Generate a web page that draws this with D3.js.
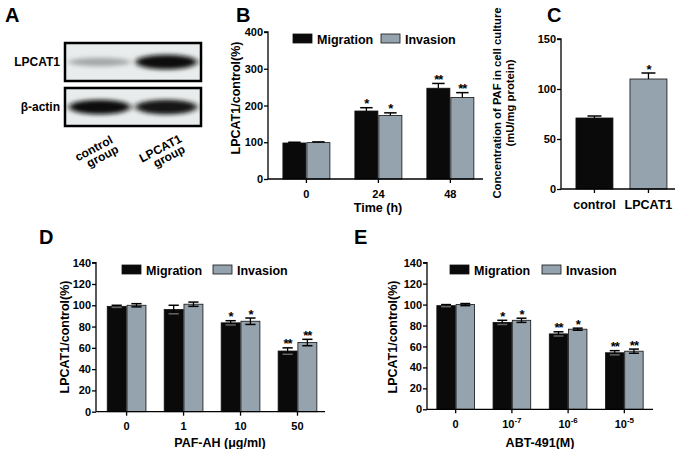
<!DOCTYPE html>
<html><head><meta charset="utf-8">
<script src="https://cdn.jsdelivr.net/npm/d3@7"></script>
<style>
body{margin:0;background:#fff;}
svg text{font-family:"Liberation Sans",Arial,sans-serif;font-weight:bold;fill:#000;}
</style></head>
<body><svg id="fig" width="680" height="449"></svg>
<script>
// ---------- DATA ----------
const seriesNames = ["Migration", "Invasion"];

// Panel A (western blot) band intensities
const blotRows = ["LPCAT1", "β-actin"];
const blotLanes = ["control group", "LPCAT1 group"];
const blotIntensity = [[0.3, 0.97], [0.97, 0.95]];

// Panel B
const bGroups = ["0", "24", "48"];
const bMigration = [98, 185, 247];
const bInvasion = [99, 173, 222];
const bMigErr = [2, 9, 13];
const bInvErr = [2, 7, 13];
const bMigSig = ["", "*", "**"];
const bInvSig = ["", "*", "**"];
const bTicks = [0, 100, 200, 300, 400];

// Panel C
const cGroups = ["control", "LPCAT1"];
const cValues = [71, 110];
const cErr = [2, 6];
const cSig = ["", "*"];
const cTicks = [0, 50, 100, 150];

// Panel D
const dGroups = ["0", "1", "10", "50"];
const dMigration = [99, 96, 83.5, 57];
const dInvasion = [100, 101, 85, 65];
const dMigErr = [1, 4, 2, 3];
const dInvErr = [1.5, 2, 3, 3];
const dMigSig = ["", "", "*", "**"];
const dInvSig = ["", "", "*", "**"];

// Panel E
const eGroups = ["0", "-7", "-6", "-5"];
const eMigration = [99, 83, 72, 54];
const eInvasion = [100, 85, 76.5, 55.5];
const eMigErr = [1, 2, 2, 2];
const eInvErr = [1, 2, 1, 2];
const eMigSig = ["", "*", "**", "**"];
const eInvSig = ["", "*", "*", "**"];
const deTicks = [0, 20, 40, 60, 80, 100, 120, 140];

// ---------- STYLE ----------
const BLACK = "#0a0a0a", GRAY = "#95a3ae";
const FONT = '"Liberation Sans",Arial,sans-serif';
const svg = d3.select("#fig");

// Panel letters
[["A", 5, 22], ["B", 236, 22], ["C", 547, 22], ["D", 39, 244], ["E", 354, 244]].forEach(([t, x, y]) => {
  svg.append("text").attr("x", x).attr("y", y).attr("font-size", 20).text(t);
});

// ---------- Panel A : blot ----------
const defs = svg.append("defs");
defs.append("filter").attr("id", "blur").attr("x", "-30%").attr("y", "-80%").attr("width", "160%").attr("height", "260%")
  .append("feGaussianBlur").attr("stdDeviation", "3 2");
const boxes = [{x: 65, y: 43, w: 136, h: 38}, {x: 65, y: 88, w: 136, h: 38}];
const laneX = d3.scaleBand().domain(blotLanes).range([boxes[0].x, boxes[0].x + boxes[0].w]).paddingInner(0.04).paddingOuter(0.04);
boxes.forEach((b, r) => {
  svg.append("rect").attr("x", b.x).attr("y", b.y).attr("width", b.w).attr("height", b.h).attr("fill", "#e9ecec");
  const g = svg.append("g").attr("filter", "url(#blur)");
  blotLanes.forEach((lane, i) => {
    const v = blotIntensity[r][i];
    g.append("ellipse")
      .attr("cx", laneX(lane) + laneX.bandwidth() / 2)
      .attr("cy", b.y + b.h / 2)
      .attr("rx", laneX.bandwidth() / 2 - 1)
      .attr("ry", 3 + 4.5 * v)
      .attr("fill", d3.interpolateRgb("#e9ecec", "#0a0a0a")(v));
  });
  svg.append("rect").attr("x", b.x).attr("y", b.y).attr("width", b.w).attr("height", b.h)
    .attr("fill", "none").attr("stroke", "#000").attr("stroke-width", 2.5);
  svg.append("text").attr("x", 60).attr("y", b.y + b.h / 2 + 4).attr("text-anchor", "end").attr("font-size", 12).text(blotRows[r]);
});
blotLanes.forEach((lane, i) => {
  const cx = laneX(lane) + laneX.bandwidth() / 2;
  const parts = lane.split(" ");
  const g = svg.append("g").attr("transform", `translate(${cx - 4},${152}) rotate(-28)`);
  g.append("text").attr("x", 0).attr("y", 0).attr("text-anchor", "middle").attr("font-size", 12).text(parts[0]);
  g.append("text").attr("x", 4).attr("y", 11).attr("text-anchor", "middle").attr("font-size", 12).text(parts[1]);
});

// ---------- generic grouped bar panel ----------
function panel(opt) {
  const g = svg.append("g");
  const y = d3.scaleLinear().domain(opt.yDomain).range(opt.yRange);
  const x = d3.scaleBand().domain(opt.groups).range(opt.xRange)
    .paddingInner(opt.pi).paddingOuter(opt.po).align(opt.align);
  const sub = d3.scaleBand().domain(opt.series.map((s, i) => i)).range([0, x.bandwidth()]).paddingInner(opt.subPad === undefined ? 0.04 : opt.subPad);

  opt.series.forEach((s, si) => {
    opt.groups.forEach((grp, gi) => {
      const bx = x(grp) + sub(si), bw = sub.bandwidth();
      const v = s.values[gi];
      const col = s.colors ? s.colors[gi] : s.color;
      g.append("rect").attr("x", bx).attr("y", y(v)).attr("width", bw).attr("height", y(0) - y(v))
        .attr("fill", col).attr("stroke", "#111").attr("stroke-width", 0.8);
      const e = s.err[gi];
      const cx = bx + bw / 2, cap = Math.min(bw * 0.27, 7);
      const lo = opt.twoSided ? v - e : v;
      g.append("line").attr("x1", cx).attr("x2", cx).attr("y1", y(lo)).attr("y2", y(v + e)).attr("stroke", "#000").attr("stroke-width", 1.3);
      g.append("line").attr("x1", cx - cap).attr("x2", cx + cap).attr("y1", y(v + e)).attr("y2", y(v + e)).attr("stroke", "#000").attr("stroke-width", 1.5);
      if (opt.twoSided) g.append("line").attr("x1", cx - cap).attr("x2", cx + cap).attr("y1", y(lo)).attr("y2", y(lo)).attr("stroke", col === BLACK ? "#666" : "#000").attr("stroke-width", 1.5);
      if (s.sig[gi]) g.append("text").attr("x", cx).attr("y", y(v + e) + 0.5).attr("text-anchor", "middle")
        .attr("font-size", 13).attr("font-weight", "normal").attr("letter-spacing", -1).text(s.sig[gi]);
    });
  });

  const ya = g.append("g").attr("transform", `translate(${opt.xRange[0]},0)`)
    .call(d3.axisLeft(y).tickValues(opt.ticks).tickSize(4).tickPadding(1));
  ya.selectAll("text").attr("font-size", 11).style("font-family", FONT).style("font-weight", "bold");
  ya.select(".domain").attr("d", `M-4,${y(opt.yDomain[1])}H0V${y(0)}`).attr("stroke-width", 1.3);
  ya.selectAll(".tick line").attr("stroke-width", 1.3);

  const xa = g.append("g").attr("transform", `translate(0,${y(0)})`)
    .call(d3.axisBottom(x).tickSize(4).tickPadding(7).tickFormat(d => d));
  xa.select(".domain").attr("d", `M${opt.xRange[0]},0H${opt.xRange[1]}`).attr("stroke-width", 1.3);
  xa.selectAll(".tick line").attr("stroke-width", 1.3);
  xa.selectAll("text").attr("font-size", opt.xTickSize || 11).style("font-family", FONT).style("font-weight", "bold");
  if (opt.superscript) {
    xa.selectAll(".tick text").each(function(d) {
      const t = d3.select(this);
      if (d === "0") return;
      t.text("10");
      t.append("tspan").attr("dy", -5).attr("font-size", 8).text(d);
    });
  }

  opt.yTitle.forEach((line, i) => {
    g.append("text").attr("transform", `translate(${opt.yTitleX + i * 13},${opt.yTitleY}) rotate(-90)`)
      .attr("text-anchor", "middle").attr("font-size", opt.yTitleSize || 12.5).text(line);
  });
  if (opt.xTitle) g.append("text").attr("x", opt.xTitleX).attr("y", opt.xTitleY).attr("text-anchor", "middle").attr("font-size", 12.5).text(opt.xTitle);

  if (opt.legend) {
    const L = opt.legend;
    opt.series.forEach((s, si) => {
      g.append("rect").attr("x", L.x[si]).attr("y", L.y).attr("width", 19).attr("height", 9)
        .attr("fill", s.color).attr("stroke", "#111").attr("stroke-width", 0.8);
      g.append("text").attr("x", L.x[si] + 24).attr("y", L.y + 10).attr("font-size", 12.5).text(seriesNames[si]);
    });
  }
}

panel({
  groups: bGroups, yDomain: [0, 400], yRange: [179, 32], xRange: [268, 483], pi: 0.347, po: 0.167, align: 0.62,
  ticks: bTicks,
  series: [{values: bMigration, err: bMigErr, sig: bMigSig, color: BLACK}, {values: bInvasion, err: bInvErr, sig: bInvSig, color: GRAY}],
  yTitle: ["LPCAT1/control(%)"], yTitleX: 240, yTitleY: 98, xTitle: "Time (h)", xTitleX: 378, xTitleY: 212,
  legend: {x: [293, 381], y: 34}
});

panel({
  groups: cGroups, yDomain: [0, 150], yRange: [189, 39], xRange: [561, 675], pi: 0.315, po: 0.213, align: 0.65, subPad: 0,
  ticks: cTicks, xTickSize: 12.5,
  series: [{values: cValues, err: cErr, sig: cSig, color: BLACK, colors: [BLACK, GRAY]}],
  yTitle: ["Concentration of PAF in cell culture", "(mU/mg protein)"], yTitleX: 501, yTitleY: 103, yTitleSize: 11.3
});

panel({
  groups: dGroups, yDomain: [0, 140], yRange: [411.7, 262.7], xRange: [96, 325], pi: 0.32, po: 0.17, align: 0.58,
  ticks: deTicks, twoSided: true,
  series: [{values: dMigration, err: dMigErr, sig: dMigSig, color: BLACK}, {values: dInvasion, err: dInvErr, sig: dInvSig, color: GRAY}],
  yTitle: ["LPCAT1/control(%)"], yTitleX: 69, yTitleY: 337, xTitle: "PAF-AH (μg/ml)", xTitleX: 220, xTitleY: 447,
  legend: {x: [122, 213], y: 265}
});

panel({
  groups: eGroups, yDomain: [0, 140], yRange: [409.3, 262.7], xRange: [427, 653], pi: 0.33, po: 0.175, align: 0.5,
  ticks: deTicks, twoSided: true, superscript: true,
  series: [{values: eMigration, err: eMigErr, sig: eMigSig, color: BLACK}, {values: eInvasion, err: eInvErr, sig: eInvSig, color: GRAY}],
  yTitle: ["LPCAT1/control(%)"], yTitleX: 397, yTitleY: 337, xTitle: "ABT-491(M)", xTitleX: 540, xTitleY: 447,
  legend: {x: [450, 542], y: 265}
});
</script></body></html>
